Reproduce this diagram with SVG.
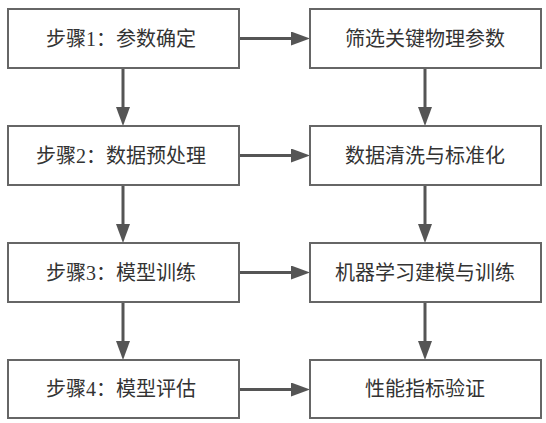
<svg xmlns="http://www.w3.org/2000/svg" width="546" height="423" viewBox="0 0 546 423">
<defs>
<style>
.box{fill:#fff;stroke:#666;stroke-width:2}
.t{font-family:"Liberation Serif","Noto Sans CJK SC",serif;font-size:20px;fill:#333;text-anchor:middle}
.c{stroke:#555;stroke-width:3;fill:none}
</style>
<marker id="ah" markerUnits="userSpaceOnUse" markerWidth="20" markerHeight="15" refX="0" refY="7" orient="auto">
<path d="M0,0 L19,7 L0,14 z" fill="#555"/>
</marker>
</defs>
<rect width="546" height="423" fill="#fff"/>
<g id="connectors">
<line class="c" x1="123" y1="68" x2="123" y2="107" marker-end="url(#ah)"/>
<line class="c" x1="123" y1="185" x2="123" y2="224" marker-end="url(#ah)"/>
<line class="c" x1="123" y1="302" x2="123" y2="341" marker-end="url(#ah)"/>
<line class="c" x1="425" y1="68" x2="425" y2="107" marker-end="url(#ah)"/>
<line class="c" x1="425" y1="185" x2="425" y2="224" marker-end="url(#ah)"/>
<line class="c" x1="425" y1="302" x2="425" y2="341" marker-end="url(#ah)"/>
<line class="c" x1="239" y1="38.5" x2="291" y2="38.5" marker-end="url(#ah)"/>
<line class="c" x1="239" y1="155.5" x2="291" y2="155.5" marker-end="url(#ah)"/>
<line class="c" x1="239" y1="272.5" x2="291" y2="272.5" marker-end="url(#ah)"/>
<line class="c" x1="239" y1="389.5" x2="291" y2="389.5" marker-end="url(#ah)"/>
</g>
<g id="s1"><rect class="box" x="8" y="9" width="231" height="59"/><text class="t" x="121" y="45.5">步骤1：参数确定</text></g>
<g id="s2"><rect class="box" x="8" y="126" width="231" height="59"/><text class="t" x="121" y="162.5">步骤2：数据预处理</text></g>
<g id="s3"><rect class="box" x="8" y="243" width="231" height="59"/><text class="t" x="121" y="279.5">步骤3：模型训练</text></g>
<g id="s4"><rect class="box" x="8" y="360" width="231" height="58"/><text class="t" x="121" y="396">步骤4：模型评估</text></g>
<g id="r1"><rect class="box" x="310" y="9" width="231" height="59"/><text class="t" x="425" y="45.5">筛选关键物理参数</text></g>
<g id="r2"><rect class="box" x="310" y="126" width="231" height="59"/><text class="t" x="425" y="162.5">数据清洗与标准化</text></g>
<g id="r3"><rect class="box" x="310" y="243" width="231" height="59"/><text class="t" x="425" y="279.5">机器学习建模与训练</text></g>
<g id="r4"><rect class="box" x="310" y="360" width="231" height="58"/><text class="t" x="425" y="396">性能指标验证</text></g>
</svg>
